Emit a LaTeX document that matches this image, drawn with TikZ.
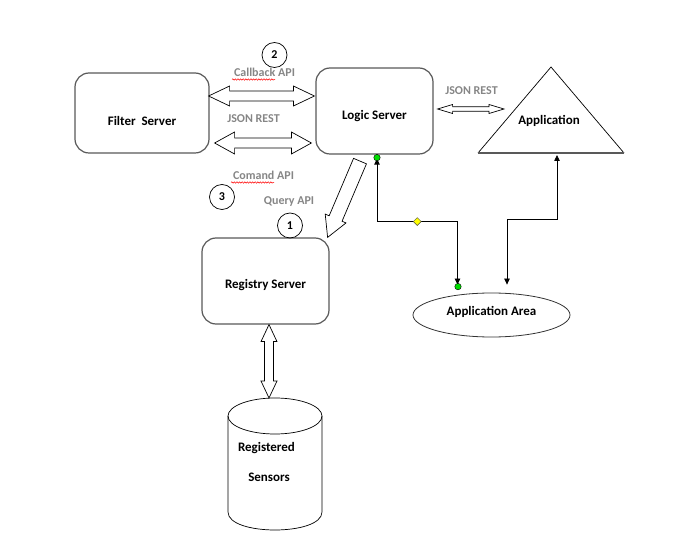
\documentclass[tikz,border=0pt]{standalone}
\usepackage{fontspec}
\setmainfont{Carlito}
\usetikzlibrary{calc,arrows.meta,shapes.geometric,decorations.pathmorphing}

\definecolor{boxline}{HTML}{595959}
\definecolor{labelgrey}{HTML}{868686}
\definecolor{dotgreen}{HTML}{00DD00}
\definecolor{diayellow}{HTML}{FFFF00}

% hollow block arrow with a head at both ends: start, end, shaft half width, head half width, head length
\newcommand\hollowdouble[5]{%
  \draw[hollow] let \p1=#1, \p2=#2, \n1={atan2(\y2-\y1,\x2-\x1)}, \n2={veclen(\x2-\x1,\y2-\y1)} in
    [shift={(\p1)}, rotate=\n1]
    (0,0) -- (#5,#4) -- (#5,#3) -- ({\n2-#5},#3) -- ({\n2-#5},#4) -- (\n2,0)
    -- ({\n2-#5},-#4) -- ({\n2-#5},-#3) -- (#5,-#3) -- (#5,-#4) -- cycle;}
% hollow block arrow with a single head at the end
\newcommand\hollowsingle[5]{%
  \draw[hollow] let \p1=#1, \p2=#2, \n1={atan2(\y2-\y1,\x2-\x1)}, \n2={veclen(\x2-\x1,\y2-\y1)} in
    [shift={(\p1)}, rotate=\n1]
    (0,#3) -- ({\n2-#5},#3) -- ({\n2-#5},#4) -- (\n2,0)
    -- ({\n2-#5},-#4) -- ({\n2-#5},-#3) -- (0,-#3) -- cycle;}

\tikzset{
  server/.style={draw=boxline, line width=1.2pt, rounded corners=14pt, fill=white},
  nodetext/.style={font=\fontsize{13}{15}\selectfont\bfseries, text=black, inner sep=0pt},
  greylabel/.style={font=\fontsize{12}{14}\selectfont\bfseries, text=labelgrey, inner sep=0pt},
  numcircle/.style={draw=black, circle, line width=0.7pt, minimum size=25pt, inner sep=0pt,
    font=\fontsize{12}{14}\selectfont\bfseries},
  hollow/.style={draw=black, line width=0.7pt, fill=white, line join=miter},
  conn/.style={draw=black, line width=0.8pt, {Triangle[length=6pt,width=5.5pt]}-{Triangle[length=6pt,width=5.5pt]}},
  enddot/.style={circle, draw=black, line width=0.4pt, fill=dotgreen, minimum size=6.5pt, inner sep=0pt},
  middiamond/.style={diamond, draw=black!70, line width=0.4pt, fill=diayellow, minimum size=8pt, inner sep=0pt},
  spell/.style={draw=red, line width=0.5pt, decorate, decoration={snake, amplitude=0.7pt, segment length=2.6pt}}
}

\begin{document}
\begin{tikzpicture}[x=1pt, y=-1pt]
  \useasboundingbox (0,0) rectangle (673,553);

  % servers
  \node[server, minimum width=134pt, minimum height=80pt] (filter) at (142,113) {};
  \node[server, minimum width=117pt, minimum height=86pt] (logic) at (374.5,111) {};
  \node[server, minimum width=127pt, minimum height=86pt] (registry) at (265.5,281) {};
  \node[nodetext] (filtertext) at ($(filter.center)+(0,8)$) {Filter\ \ Server};
  \node[nodetext] (logictext) at ($(logic.center)+(0,5)$) {Logic Server};
  \node[nodetext] (registrytext) at ($(registry.center)+(0,4)$) {Registry Server};

  % application triangle
  \coordinate (apex) at (551,67);
  \coordinate (baseL) at (478,153);
  \coordinate (baseR) at (624,153);
  \draw[black, line width=0.7pt] (baseL) -- (apex) -- (baseR);
  \draw[boxline, line width=1.4pt] (baseL) -- (baseR);
  \node[nodetext] (app) at (549,121) {Application};

  % application area
  \node[ellipse, draw=black!80, line width=0.8pt, minimum width=157pt, minimum height=44pt,
        inner sep=0pt] (area) at (491.5,315) {};
  \node[nodetext] (areatext) at ($(area.center)+(0,-3)$) {Application Area};

  % registered sensors store
  \coordinate (cyltop) at (269,398);
  \draw[black, line width=0.7pt] (275,416) ellipse [x radius=47pt, y radius=18pt];
  \draw[black, line width=0.7pt] (228,416) -- (228,512)
     .. controls (228,536) and (322,536) .. (322,512) -- (322,416);
  \node[nodetext] (reg1) at (266.5,448) {Registered};
  \node[nodetext] (reg2) at (269,477) {Sensors};

  % hollow arrows between servers
  \hollowdouble{($(filter.east)+(-1,-17)$)}{($(logic.west)+(-1,-15)$)}{5}{10}{21}
  \hollowdouble{($(filter.east)+(5,30)$)}{($(logic.west)+(-4,32)$)}{5}{11}{20}
  \coordinate (appL) at (504,109);
  \hollowdouble{($(logic.east)+(4,-2)$)}{(appL)}{2.2}{4.5}{15}
  \hollowdouble{($(registry.south)+(3.5,0)$)}{(cyltop)}{4.5}{8}{17}
  \hollowsingle{($(logic.south)+(-14.5,6.5)$)}{($(registry.north east)+(-2,0)$)}{7}{11.3}{20.5}

  % labels
  \node[greylabel] (cb) at (264.5,72) {Callback API};
  \node[greylabel] (jr1) at (253.5,118.5) {JSON REST};
  \node[greylabel] (cm) at (263.5,175) {Comand API};
  \node[greylabel] (qa) at (289,202) {Query API};
  \node[greylabel] (jr2) at (471.5,91) {JSON REST};
  \draw[spell] (232,79.5) -- (275,79.5);
  \draw[spell] (231,182.5) -- (274,182.5);

  % numbered markers
  \node[numcircle] (n2) at (274.5,55) {2};
  \node[numcircle] (n3) at (222,197) {3};
  \node[numcircle] (n1) at (290,225.5) {1};

  % logic server <-> application area
  \coordinate (c1a) at ($(logic.south)+(2.5,4)$);
  \coordinate (c1b) at ($(area.north)+(-34,-8)$);
  \coordinate (c1m) at ($(c1a)!0.5!(c1b)$);
  \draw[conn] (c1a) |- (c1m) -| (c1b);
  \node[enddot] (d1) at ($(logic.south)+(2.5,3)$) {};
  \node[enddot] (d2) at ($(area.north)+(-33.5,-6)$) {};
  \node[middiamond] (dm) at (c1m) {};

  % application area <-> application
  \coordinate (c2a) at ($(area.north)+(15.5,-8)$);
  \coordinate (c2b) at (557,155);
  \coordinate (c2m) at ($(c2a)!0.5!(c2b)$);
  \draw[conn] (c2a) |- (c2m) -| (c2b);
\end{tikzpicture}
\end{document}
